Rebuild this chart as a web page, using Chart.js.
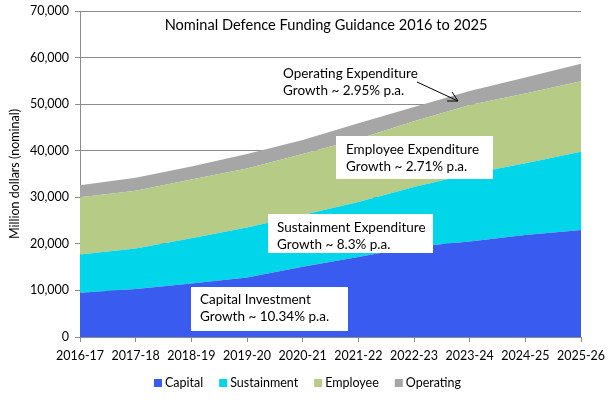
<!DOCTYPE html>
<html>
<head>
<meta charset="utf-8">
<script src="https://cdn.jsdelivr.net/npm/chart.js@4/dist/chart.umd.min.js"></script>
<style>
  html, body { margin: 0; padding: 0; background: #fff; }
  #wrap { width: 615px; height: 400px; }
</style>
</head>
<body>
<div id="wrap"><canvas id="chart" width="615" height="400"></canvas></div>
<script>
// Datos (millones de dolares, nominal)
const years = ["2016-17", "2017-18", "2018-19", "2019-20", "2020-21",
               "2021-22", "2022-23", "2023-24", "2024-25", "2025-26"];
const capital     = [9500, 10300, 11500, 12800, 15100, 17200, 19400, 20500, 21900, 23000];
const sustainment = [8200, 8700, 9700, 10700, 11100, 11800, 12800, 14500, 15400, 16800];
const employee    = [12300, 12400, 12600, 12700, 13100, 13500, 14100, 14800, 15000, 15100];
const operating   = [2600, 2800, 2800, 3100, 3000, 3400, 3100, 3000, 3400, 3800];

const FONT = "Lato, 'Open Sans', sans-serif";
const GRID = "#8c8c8c";

// Notas dentro del grafico
const notes = [
    { lines: ["Operating Expenditure", "Growth ~ 2.95% p.a."], x: 283, y: 74, box: null },
    { lines: ["Employee Expenditure", "Growth ~ 2.71% p.a."], x: 346, y: 150, box: [336, 136, 157, 43] },
    { lines: ["Sustainment Expenditure", "Growth ~ 8.3% p.a."], x: 277, y: 228, box: [268, 214, 165, 39] },
    { lines: ["Capital Investment", "Growth ~ 10.34% p.a."], x: 200, y: 300, box: [191, 287, 157, 44] }
];

const notesPlugin = {
    id: "notes",
    afterDatasetsDraw(c) {
        const ctx = c.ctx;
        ctx.save();
        // titulo
        ctx.font = "14.6px " + FONT;
        ctx.fillStyle = "#000";
        ctx.textAlign = "center";
        ctx.textBaseline = "middle";
        ctx.fillText("Nominal Defence Funding Guidance 2016 to 2025", 326, 25);

        ctx.font = "13.5px " + FONT;
        ctx.textAlign = "left";
        notes.forEach(n => {
            if (n.box) {
                ctx.fillStyle = "#fff";
                ctx.fillRect(n.box[0], n.box[1], n.box[2], n.box[3]);
            }
            ctx.fillStyle = "#000";
            n.lines.forEach((l, i) => ctx.fillText(l, n.x, n.y + i * 17));
        });

        // flecha
        ctx.strokeStyle = "#000";
        ctx.lineWidth = 1;
        ctx.beginPath();
        ctx.moveTo(417, 82);
        ctx.lineTo(458, 101);
        ctx.moveTo(458, 101);
        ctx.lineTo(447, 101);
        ctx.moveTo(458, 101);
        ctx.lineTo(452, 92);
        ctx.stroke();

        // leyenda
        ctx.font = "12.5px " + FONT;
        const items = c.data.datasets.map(d => ({ t: d.label, col: d.backgroundColor, w: ctx.measureText(d.label).width }));
        const gap = 16;
        const total = items.reduce((s, it) => s + 11 + it.w, 0) + gap * (items.length - 1);
        let x = 307.5 - total / 2;
        const y = 383;
        items.forEach(it => {
            ctx.fillStyle = it.col;
            ctx.fillRect(x, y - 4, 8, 8);
            ctx.fillStyle = "#000";
            ctx.fillText(it.t, x + 11, y);
            x += 11 + it.w + gap;
        });
        ctx.restore();
    }
};

function area(label, data, color, fill) {
    return {
        label: label,
        data: data,
        backgroundColor: color,
        borderColor: color,
        borderWidth: 0,
        pointRadius: 0,
        tension: 0,
        fill: fill
    };
}

const ctx = document.getElementById("chart").getContext("2d");
const chart = new Chart(ctx, {
    type: "line",
    data: {
        labels: years,
        datasets: [
            area("Capital", capital, "#3a5bef", "origin"),
            area("Sustainment", sustainment, "#00d5ea", "-1"),
            area("Employee", employee, "#b5cb86", "-1"),
            area("Operating", operating, "#a6a6a6", "-1")
        ]
    },
    options: {
        responsive: false,
        animation: false,
        layout: { padding: { top: 11, right: 34, bottom: 35, left: 7 } },
        plugins: {
            legend: { display: false },
            tooltip: { enabled: false }
        },
        scales: {
            x: {
                offset: false,
                afterFit: s => { s.height = 28; s.paddingTop = 0; s.paddingBottom = 0; },
                grid: { drawOnChartArea: false, drawTicks: true, tickLength: 5, color: GRID },
                border: { color: GRID },
                ticks: { color: "#000", maxRotation: 0, autoSkip: false, font: { family: FONT, size: 12.5 }, padding: 6 }
            },
            y: {
                stacked: true,
                min: 0,
                max: 70000,
                afterFit: s => { s.width = 73; s.paddingTop = 0; s.paddingBottom = 0; },
                ticks: {
                    stepSize: 10000,
                    color: "#000",
                    padding: 6,
                    font: { family: FONT, size: 12.5 },
                    callback: v => v.toLocaleString("en-US")
                },
                grid: { color: GRID, tickLength: 5, z: -1 },
                border: { color: GRID },
                title: {
                    display: true,
                    text: "Million dollars (nominal)",
                    color: "#000",
                    font: { family: FONT, size: 12.5 },
                    padding: { top: 0, bottom: 0 }
                }
            }
        }
    },
    plugins: [notesPlugin]
});
</script>
</body>
</html>
